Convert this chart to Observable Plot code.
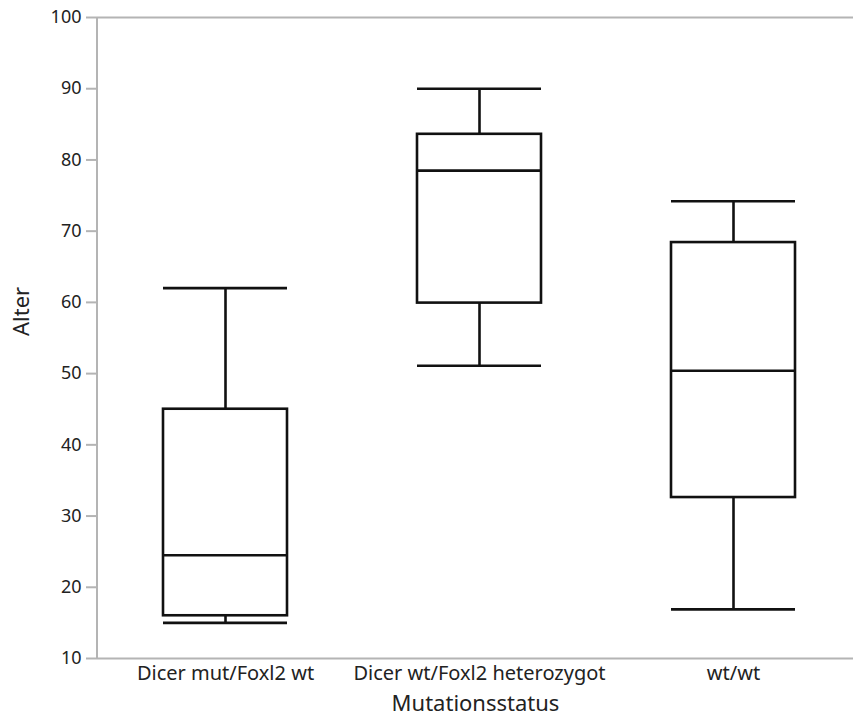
<!DOCTYPE html>
<html>
<head>
<meta charset="utf-8">
<script src="https://cdn.jsdelivr.net/npm/d3@7"></script>
<script src="https://cdn.jsdelivr.net/npm/@observablehq/plot@0.6"></script>
<style>
  html, body { margin: 0; padding: 0; background: #fff; }
  #chart svg { display: block; }
</style>
</head>
<body>
<div id="chart"></div>
<script>
// Age (Alter) by mutation status: box-and-whisker summaries
const categories = ["Dicer mut/Foxl2 wt", "Dicer wt/Foxl2 heterozygot", "wt/wt"];
const whiskerLow  = [15.0, 51.1, 16.9];
const quartile1   = [16.0, 59.9, 32.6];
const medians     = [24.5, 78.5, 50.4];
const quartile3   = [45.0, 83.6, 68.4];
const whiskerHigh = [62.0, 90.0, 74.2];
const yTicks = [10, 20, 30, 40, 50, 60, 70, 80, 90, 100];

const boxes = categories.map((c, i) => ({
  status: c,
  low: whiskerLow[i], q1: quartile1[i], median: medians[i], q3: quartile3[i], high: whiskerHigh[i]
}));

const font = "'Noto Sans', 'Open Sans', sans-serif";
const axisGrey = "#b4b4b4";
const textInk = "#222";
const ink = "#111";
const side = { insetLeft: 65, insetRight: 65 };

const chart = Plot.plot({
  width: 853,
  height: 719,
  marginLeft: 97,
  marginRight: 0,
  marginTop: 17,
  marginBottom: 61,
  style: { fontFamily: font, background: "#fff" },
  x: { domain: categories, range: [97, 861], padding: 0 },
  y: { domain: [10, 100] },
  marks: [
    Plot.ruleY([10, 100], { stroke: axisGrey, strokeWidth: 2 }),
    Plot.axisY({
      ticks: yTicks, tickSize: 11, tickPadding: 5, tickFormat: d => d,
      stroke: axisGrey, strokeWidth: 2, fill: textInk, fontSize: 18, label: null
    }),
    Plot.axisX({ tickSize: 0, tickPadding: 7, fill: textInk, fontSize: 20, label: null }),
    // whiskers
    Plot.ruleX(boxes, { x: "status", y1: "q3", y2: "high", stroke: ink, strokeWidth: 2.6 }),
    Plot.ruleX(boxes, { x: "status", y1: "low", y2: "q1", stroke: ink, strokeWidth: 2.6 }),
    // interquartile boxes
    Plot.barY(boxes, { x: "status", y1: "q1", y2: "q3", fill: "#fff", stroke: ink, strokeWidth: 2.6, ...side }),
    // medians and whisker caps
    Plot.tickY(boxes, { x: "status", y: "median", stroke: ink, strokeWidth: 2.6, ...side }),
    Plot.tickY(boxes, { x: "status", y: "high", stroke: ink, strokeWidth: 2.6, ...side }),
    Plot.tickY(boxes, { x: "status", y: "low", stroke: ink, strokeWidth: 2.6, ...side }),
    // axis titles
    Plot.text(["Mutationsstatus"], { text: d => d, frameAnchor: "bottom", dy: 45, lineAnchor: "middle", fontSize: 22, fill: textInk }),
    Plot.text(["Alter"], { text: d => d, frameAnchor: "left", rotate: -90, dx: -76, dy: -2, fontSize: 22, fill: textInk })
  ]
});

// left axis line along the y range
const y = chart.scale("y");
d3.select(chart).append("line")
  .attr("x1", 97).attr("x2", 97)
  .attr("y1", y.apply(10)).attr("y2", y.apply(100))
  .attr("stroke", axisGrey).attr("stroke-width", 2);

document.getElementById("chart").appendChild(chart);
</script>
</body>
</html>
